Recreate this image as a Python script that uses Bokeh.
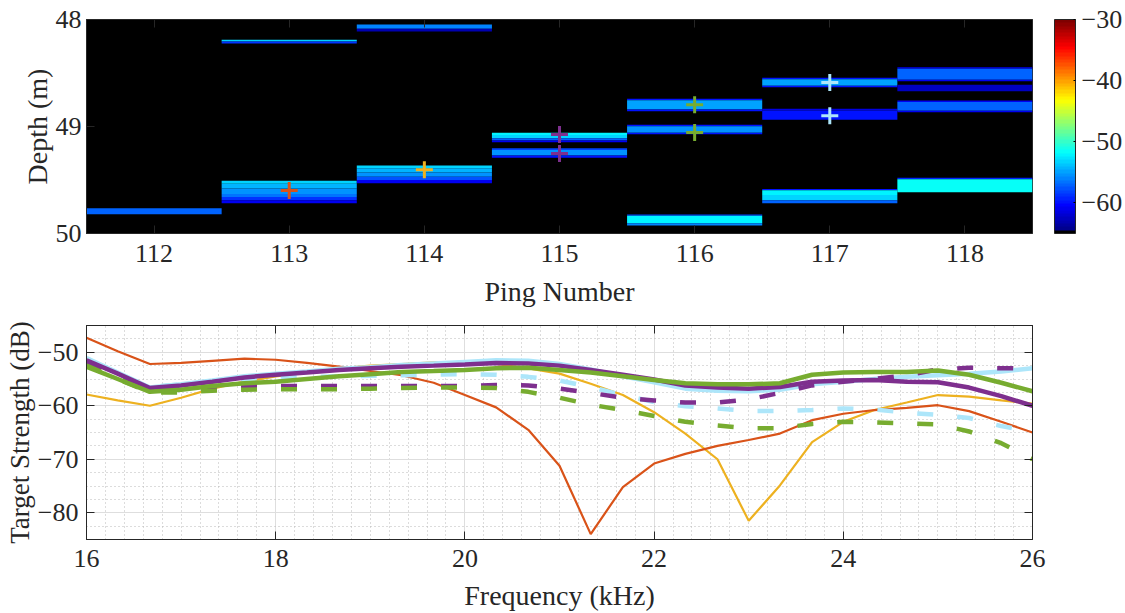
import numpy as np
from bokeh.plotting import figure
from bokeh.layouts import column
from bokeh.models import (Range1d, LinearAxis, FixedTicker, SingleIntervalTicker,
                          ColorBar, LinearColorMapper, ColumnDataSource, Title)
from bokeh.embed import file_html
from bokeh.resources import INLINE

# ---------------- data: echogram (top) ----------------
ping_ticks = [112, 113, 114, 115, 116, 117, 118]
depth_ticks = [48, 49, 50]
cbar_ticks = [-60, -50, -40, -30]

band_ping = [112,
             113, 113,
             113, 113, 113, 113, 113, 113,
             114, 114,
             114, 114, 114, 114, 114,
             115, 115, 115, 115,
             115, 115, 115,
             116, 116, 116,
             116, 116, 116,
             116, 116, 116,
             117, 117, 117,
             117, 117,
             117, 117, 117, 117,
             118, 118, 118,
             118,
             118, 118, 118,
             118, 118]
band_top = [49.763,
            48.190, 48.205,
            49.507, 49.535, 49.580, 49.630, 49.660, 49.690,
            48.047, 48.086,
            49.365, 49.390, 49.430, 49.470, 49.500,
            49.059, 49.080, 49.110, 49.130,
            49.203, 49.220, 49.270,
            48.741, 48.755, 48.840,
            48.984, 48.998, 49.058,
            49.822, 49.835, 49.905,
            48.545, 48.558, 48.620,
            48.835, 48.850,
            49.583, 49.595, 49.640, 49.690,
            48.446, 48.460, 48.562,
            48.610,
            48.757, 48.770, 48.852,
            49.480, 49.493]
band_bottom = [49.820,
               48.205, 48.225,
               49.535, 49.580, 49.630, 49.660, 49.690, 49.717,
               48.086, 48.112,
               49.390, 49.430, 49.470, 49.500, 49.530,
               49.080, 49.110, 49.130, 49.147,
               49.220, 49.270, 49.293,
               48.755, 48.840, 48.857,
               48.998, 49.058, 49.072,
               49.835, 49.905, 49.925,
               48.558, 48.620, 48.633,
               48.850, 48.937,
               49.595, 49.640, 49.690, 49.717,
               48.460, 48.562, 48.577,
               48.670,
               48.770, 48.852, 48.866,
               49.493, 49.614]
band_ts = [-57.0,
           -53.0, -58.5,
           -53.5, -54.5, -55.5, -56.5, -58.5, -61.0,
           -56.0, -63.0,
           -53.5, -54.5, -55.5, -57.5, -61.0,
           -52.0, -53.5, -57.0, -61.0,
           -58.0, -55.5, -60.0,
           -60.0, -55.0, -60.0,
           -60.0, -55.3, -60.0,
           -58.0, -52.0, -56.0,
           -60.0, -55.0, -60.0,
           -61.5, -60.0,
           -60.0, -52.0, -53.5, -57.0,
           -61.0, -57.0, -61.0,
           -62.5,
           -61.0, -57.0, -61.0,
           -59.0, -51.7]

target_ping = [113, 114, 115, 115, 116, 116, 117, 117]
target_depth = [49.598, 49.405, 49.075, 49.252, 48.797, 49.055, 48.589, 48.900]

# ---------------- data: target strength spectra (bottom) ----------------
freq = [16.00, 16.33, 16.67, 17.00, 17.33, 17.67, 18.00, 18.33, 18.67, 19.00,
        19.33, 19.67, 20.00, 20.33, 20.67, 21.00, 21.33, 21.67, 22.00, 22.33,
        22.67, 23.00, 23.33, 23.67, 24.00, 24.33, 24.67, 25.00, 25.33, 25.67, 26.00]

ts_113 = [-47.3, -49.8, -52.2, -52.0, -51.6, -51.2, -51.4, -52.0, -52.7, -53.5,
          -54.3, -55.7, -58.0, -60.3, -64.5, -71.2, -84.0, -75.2, -70.8, -69.0,
          -67.5, -66.4, -65.2, -62.7, -61.5, -60.8, -60.4, -59.9, -61.0, -63.0, -65.0]
ts_114 = [-57.9, -59.0, -60.0, -58.5, -56.8, -55.5, -54.5, -53.8, -53.0, -52.5,
          -52.2, -51.9, -52.0, -52.2, -53.0, -54.0, -55.9, -58.0, -61.2, -65.2,
          -70.0, -81.5, -74.9, -66.8, -63.0, -60.8, -59.4, -58.0, -58.3, -59.0, -59.6]
ts_115a = [-51.5, -54.0, -56.7, -56.2, -55.5, -54.7, -54.2, -53.8, -53.3, -53.0,
           -52.7, -52.5, -52.3, -52.0, -52.1, -52.5, -53.3, -54.2, -55.1, -56.2,
           -56.6, -56.8, -56.5, -55.5, -55.3, -55.2, -55.5, -55.6, -56.6, -58.2, -60.0]
ts_115b = [-52.0, -54.5, -57.0, -56.8, -56.5, -56.4, -56.3, -56.3, -56.3, -56.3,
           -56.3, -56.3, -56.3, -56.1, -56.2, -56.8, -57.6, -58.5, -59.0, -59.4,
           -59.4, -58.8, -57.6, -56.2, -55.5, -55.0, -54.3, -53.2, -52.9, -53.0, -53.0]
ts_116a = [-52.7, -55.0, -57.4, -57.0, -56.3, -55.8, -55.5, -55.0, -54.5, -54.1,
           -53.7, -53.5, -53.3, -53.0, -52.9, -53.3, -53.8, -54.5, -55.2, -55.8,
           -56.0, -56.0, -55.8, -54.2, -53.8, -53.7, -53.7, -53.4, -54.2, -55.7, -57.3]
ts_116b = [-52.5, -55.0, -57.5, -57.5, -57.2, -57.0, -56.9, -56.9, -56.9, -56.8,
           -56.7, -56.6, -56.6, -56.7, -57.4, -58.5, -59.8, -60.8, -61.9, -63.0,
           -63.7, -64.2, -64.2, -63.4, -63.0, -63.1, -63.3, -63.5, -64.8, -67.0, -70.0]
ts_117a = [-51.1, -53.8, -56.6, -56.0, -55.3, -54.5, -54.0, -53.6, -53.1, -52.8,
           -52.4, -52.1, -51.8, -51.5, -51.6, -52.2, -53.2, -54.5, -55.6, -56.8,
           -57.2, -57.3, -57.0, -56.0, -55.5, -55.0, -54.6, -54.3, -54.0, -53.6, -53.0]
ts_117b = [-51.5, -54.0, -56.5, -56.0, -55.5, -55.0, -54.8, -54.6, -54.5, -54.4,
           -54.3, -54.2, -54.1, -54.2, -54.6, -55.3, -56.5, -58.0, -59.3, -60.1,
           -60.5, -61.0, -61.0, -60.8, -60.5, -60.7, -61.3, -61.7, -62.3, -63.8, -64.9]

# ---------------- styles ----------------
FONT = "Liberation Serif"
TXT = "#262626"
C_RED = "#D95319"
C_YEL = "#EDB120"
C_PUR = "#7E2F8E"
C_GRN = "#77AC30"
C_LBL = "#ADE6FA"
target_colors = [C_RED, C_YEL, C_PUR, C_PUR, C_GRN, C_GRN, C_LBL, C_LBL]


def jet_palette(n):
    cols = []
    for i in range(n):
        x = i / (n - 1)
        r = min(max(1.5 - abs(4 * x - 3), 0), 1)
        g = min(max(1.5 - abs(4 * x - 2), 0), 1)
        b = min(max(1.5 - abs(4 * x - 1), 0), 1)
        cols.append("#%02x%02x%02x" % (int(r * 255), int(g * 255), int(b * 255)))
    cols[0] = "#000000"
    return cols


palette = jet_palette(64)
mapper = LinearColorMapper(palette=palette, low=-65, high=-30)


def style_axis(ax, tick_standoff=5, label_standoff=5, label_size="28px"):
    ax.major_label_text_font = FONT
    ax.major_label_text_font_size = "26px"
    ax.major_label_text_color = TXT
    ax.major_label_standoff = tick_standoff
    ax.axis_label_text_font = FONT
    ax.axis_label_text_font_size = label_size
    ax.axis_label_text_font_style = "normal"
    ax.axis_label_text_color = TXT
    ax.axis_label_standoff = label_standoff
    ax.major_tick_in = 8
    ax.major_tick_out = 0
    ax.minor_tick_line_color = None
    ax.major_tick_line_color = TXT
    ax.axis_line_color = TXT


def blank_axis(ticker):
    ax = LinearAxis(ticker=ticker)
    ax.major_label_text_font_size = "0px"
    ax.major_label_standoff = 0
    ax.major_tick_in = 8
    ax.major_tick_out = 0
    ax.minor_tick_line_color = None
    ax.major_tick_line_color = TXT
    ax.axis_line_color = TXT
    return ax


# ---------------- top: echogram ----------------
p1 = figure(width=1125, height=320, x_range=Range1d(111.5, 118.5), y_range=Range1d(50, 48),
            output_backend="svg", toolbar_location=None,
            min_border_left=82, min_border_right=90, min_border_top=19, min_border_bottom=87,
            background_fill_color="black", border_fill_color="white")
p1.grid.visible = False
p1.outline_line_color = TXT

bsrc = ColumnDataSource(dict(
    left=[pp - 0.5 for pp in band_ping], right=[pp + 0.5 for pp in band_ping],
    top=band_top, bottom=band_bottom, ts=band_ts))
p1.quad(left="left", right="right", top="top", bottom="bottom", source=bsrc,
        fill_color={"field": "ts", "transform": mapper}, line_color=None)

tsrc = ColumnDataSource(dict(x=target_ping, y=target_depth, c=target_colors))
p1.scatter(x="x", y="y", source=tsrc, marker="cross", size=17, line_width=3, line_color="c")

p1.xaxis.ticker = FixedTicker(ticks=ping_ticks)
p1.yaxis.ticker = FixedTicker(ticks=depth_ticks)
p1.xaxis.axis_label = "Ping Number"
style_axis(p1.xaxis[0], tick_standoff=11, label_standoff=11)
style_axis(p1.yaxis[0], tick_standoff=5, label_standoff=0)
p1.add_layout(blank_axis(FixedTicker(ticks=ping_ticks)), "above")

# y-axis title of the echogram as a side title (keeps the frame at its place)
p1.add_layout(Title(text="Depth (m)", align="center", text_font=FONT, text_font_size="28px",
                    text_font_style="normal", text_color=TXT, standoff=0), "left")

cb = ColorBar(color_mapper=mapper, ticker=FixedTicker(ticks=cbar_ticks), width=21, height=214,
              padding=0, margin=0, location=(22, 0),
              major_label_text_font=FONT, major_label_text_font_size="26px",
              major_label_text_color=TXT, bar_line_color=TXT,
              major_tick_line_color="black", major_tick_in=2, major_tick_out=0,
              minor_tick_line_color=None, label_standoff=6,
              background_fill_alpha=0, border_line_color=None)
p1.add_layout(cb, "right")

# ---------------- bottom: TS spectra ----------------
p2 = figure(width=1125, height=293, x_range=Range1d(16, 26), y_range=Range1d(-85, -45),
            output_backend="svg", toolbar_location=None,
            min_border_left=86, min_border_right=89, min_border_top=5, min_border_bottom=73,
            background_fill_color="white", border_fill_color="white")
p2.outline_line_color = TXT
xt = SingleIntervalTicker(interval=2, num_minor_ticks=10)
yt = SingleIntervalTicker(interval=10, num_minor_ticks=4)
p2.xaxis.ticker = xt
p2.yaxis.ticker = yt
p2.xgrid.ticker = xt
p2.ygrid.ticker = yt
p2.grid.grid_line_color = "#dedede"
p2.grid.grid_line_width = 1
p2.grid.minor_grid_line_color = "#b8b8b8"
p2.grid.minor_grid_line_dash = "1 3"
p2.xaxis.axis_label = "Frequency (kHz)"
p2.yaxis.axis_label = "Target Strength (dB)"
style_axis(p2.xaxis[0], tick_standoff=6, label_standoff=10)
style_axis(p2.yaxis[0], tick_standoff=4, label_standoff=0, label_size="27px")
p2.add_layout(blank_axis(SingleIntervalTicker(interval=2)), "above")
p2.add_layout(blank_axis(SingleIntervalTicker(interval=10)), "right")

p2.line(freq, ts_114, line_color=C_YEL, line_width=2.2)
p2.line(freq, ts_113, line_color=C_RED, line_width=2.2)
p2.line(freq, ts_117a, line_color=C_LBL, line_width=4.5)
p2.line(freq, ts_117b, line_color=C_LBL, line_width=4.5, line_dash="16 24")
p2.line(freq, ts_115a, line_color=C_PUR, line_width=4.5)
p2.line(freq, ts_115b, line_color=C_PUR, line_width=4.5, line_dash="16 24")
p2.line(freq, ts_116a, line_color=C_GRN, line_width=4.5)
p2.line(freq, ts_116b, line_color=C_GRN, line_width=4.5, line_dash="16 24")

layout = column(p1, p2)
open("out.html", "w").write(file_html(layout, INLINE))
